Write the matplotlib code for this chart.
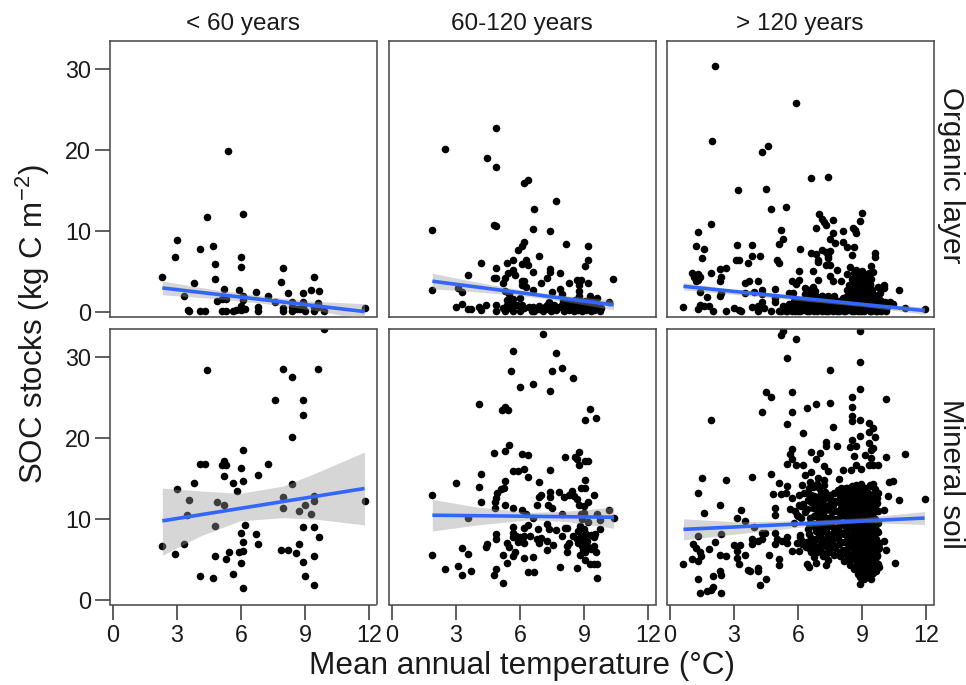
#!/usr/bin/env python3
"""
Soil organic carbon stocks against mean annual temperature,
by forest age class (columns) and soil compartment (rows).
"""

import numpy as np
import matplotlib.pyplot as plt

plt.rcParams['font.family'] = ['Liberation Sans', 'DejaVu Sans']
plt.rcParams['mathtext.fontset'] = 'custom'
plt.rcParams['mathtext.rm'] = 'Liberation Sans'
plt.rcParams['mathtext.default'] = 'regular'

age_labels = ['< 60 years', '60-120 years', '> 120 years']
row_labels = ['Organic layer', 'Mineral soil']
x_ticks = [0, 3, 6, 9, 12]
y_ticks = [0, 10, 20, 30]

# points as (temperature, stock)
organic_young = [
    (5.4, 19.9), (4.38, 11.8), (6.1, 12.1), (3.0, 8.9), (4.69, 8.2), (4.09, 7.8), (2.9, 6.8), (6.0, 6.8),
    (4.78, 6.0), (6.0, 5.55), (7.98, 5.4), (2.31, 4.3), (4.78, 4.15), (9.39, 4.3), (3.78, 3.6), (7.88, 3.7),
    (5.19, 2.85), (5.89, 2.8), (6.69, 2.55), (8.19, 2.4), (8.88, 2.4), (9.27, 2.7), (9.67, 2.65), (3.31, 1.95),
    (6.09, 2.05), (7.28, 2.0), (5.28, 1.65), (5.1, 1.6), (4.89, 1.35), (6.09, 1.45), (7.58, 1.3), (8.38, 1.25),
    (8.88, 1.3), (9.6, 1.15), (6.0, 0.8), (6.8, 0.7), (6.8, 0.2), (7.98, 0.5), (7.98, 0.2), (8.38, 0.65),
    (8.38, 0.2), (8.6, 0.4), (8.75, 0.4), (8.9, 0.6), (8.97, 0.2), (9.39, 0.6), (9.39, 0.1), (9.88, 0.2),
    (11.78, 0.5), (3.5, 0.3), (3.56, 0.1), (4.09, 0.2), (4.31, 0.2), (5.09, 0.1), (5.28, 0.2), (5.6, 0.1),
    (5.78, 0.3), (6.0, 0.3), (6.19, 0.45), (9.6, 0.6),
]
organic_mid = [
    (4.88, 22.8), (2.5, 20.2), (4.47, 19.0), (4.88, 17.9), (6.39, 16.3), (6.17, 15.9), (7.67, 13.7), (6.67, 12.7),
    (4.78, 10.8), (4.89, 10.7), (1.89, 10.2), (6.58, 10.3), (7.38, 10.0), (6.19, 8.7), (6.09, 8.2), (5.88, 7.7),
    (8.17, 8.4), (9.17, 8.2), (6.88, 6.9), (9.17, 6.5), (4.17, 6.05), (5.38, 6.1), (5.66, 6.4), (6.27, 6.45),
    (6.08, 6.0), (6.38, 5.8), (9.05, 5.7), (4.88, 5.4), (6.58, 5.0), (7.38, 5.3), (7.38, 4.95), (7.88, 4.85),
    (5.66, 5.2), (5.45, 4.8), (5.77, 4.65), (3.58, 4.55), (4.78, 4.2), (4.89, 4.2), (5.27, 4.25), (5.19, 3.65),
    (10.36, 4.1), (7.27, 4.2), (7.0, 3.65), (8.27, 3.65), (8.66, 3.95), (8.84, 3.95), (9.17, 3.6), (8.78, 3.3),
    (6.08, 3.8), (6.19, 3.8), (6.08, 3.3), (6.28, 3.1), (6.58, 2.75), (1.89, 2.7), (3.11, 3.05), (3.28, 2.55),
    (7.88, 2.85), (7.47, 2.45), (7.97, 2.25), (8.78, 2.6), (8.78, 2.05), (9.25, 2.05), (9.58, 1.75), (5.28, 2.6),
    (5.48, 2.25), (5.98, 1.75), (5.66, 1.65), (5.38, 1.45), (10.17, 1.3), (3.28, 1.0), (2.98, 0.6), (3.58, 0.35),
    (3.69, 0.35), (4.08, 0.6), (4.17, 0.3), (4.39, 0.95), (4.88, 0.95), (4.88, 0.1), (5.19, 0.55), (5.38, 0.85),
    (5.56, 1.2), (5.69, 0.85), (5.69, 0.1), (5.84, 0.85), (6.2, 0.5), (6.4, 0.6), (6.62, 0.7), (6.65, 0.1),
    (6.88, 0.4), (6.9, 0.8), (7.05, 0.15), (7.28, 0.9), (7.3, 0.4), (7.35, 1.3), (7.45, 0.2), (7.55, 0.6),
    (7.7, 0.3), (7.8, 0.7), (7.95, 0.95), (8.05, 0.2), (8.1, 0.6), (8.22, 1.1), (8.3, 0.3), (8.35, 0.7),
    (8.45, 1.2), (8.5, 0.15), (8.58, 0.5), (8.65, 0.9), (8.72, 0.25), (8.8, 0.6), (8.88, 1.3), (8.92, 0.2),
    (9.0, 0.75), (9.08, 0.3), (9.15, 1.0), (9.22, 0.5), (9.3, 0.15), (9.38, 0.75), (9.45, 0.3), (9.52, 1.1),
    (9.6, 0.5), (9.72, 0.2), (9.8, 0.55), (5.3, 0.15), (5.48, 0.5), (6.0, 0.2), (6.1, 0.85), (6.55, 0.15),
    (7.15, 0.6), (7.6, 0.95), (8.0, 1.4), (8.55, 1.5), (9.05, 1.4), (9.4, 1.5),
]
organic_old = [
    (2.12, 30.4), (5.89, 25.8), (1.99, 21.1), (4.61, 20.5), (4.31, 19.8), (6.61, 16.6), (7.41, 16.75), (3.2, 15.05),
    (4.51, 15.2), (4.72, 12.8), (5.42, 13.05), (7.0, 12.1), (7.1, 11.5), (7.21, 11.2), (7.32, 10.8), (7.62, 11.4),
    (9.01, 12.2), (8.9, 11.3), (6.82, 10.4), (1.91, 10.95), (1.32, 9.9), (5.22, 10.1), (5.31, 9.1), (5.11, 8.4),
    (7.62, 9.75), (8.1, 10.0), (8.59, 10.35), (8.68, 10.2), (8.71, 9.8), (7.51, 9.0), (7.71, 8.55), (8.1, 8.7),
    (8.31, 8.1), (8.62, 8.1), (1.22, 8.2), (1.61, 7.85), (1.52, 6.75), (3.12, 8.3), (3.82, 8.3), (3.82, 6.9),
    (4.22, 6.95), (3.21, 6.45), (3.1, 6.4), (3.64, 6.1), (5.0, 6.4), (5.11, 6.05), (6.1, 7.8), (6.61, 7.3),
    (6.82, 7.15), (6.91, 6.5), (6.91, 6.2), (7.12, 7.7), (7.32, 7.45), (7.51, 7.6), (7.41, 7.0), (7.41, 6.7),
    (7.32, 5.85), (7.51, 5.85), (8.51, 7.05), (9.62, 7.3), (9.62, 6.8), (6.02, 5.1), (6.71, 5.1), (7.81, 5.2),
    (8.42, 5.6), (8.71, 5.2), (9.01, 5.05), (9.4, 5.7), (9.51, 4.95), (8.31, 4.75), (7.51, 4.5), (1.02, 4.9),
    (1.32, 4.7), (1.41, 4.3), (1.11, 4.3), (1.32, 3.95), (1.22, 3.9), (1.91, 4.85), (2.32, 5.35), (2.6, 5.4),
    (2.41, 4.3), (2.32, 3.85), (3.51, 3.55), (3.71, 3.8), (4.11, 3.8), (5.71, 3.85), (6.02, 4.0), (5.91, 3.5),
    (6.91, 4.0), (7.62, 3.85), (8.01, 3.85), (1.41, 2.45), (1.72, 1.9), (2.41, 2.35), (2.32, 1.95), (3.51, 2.4),
    (3.92, 2.45), (4.31, 2.75), (4.92, 2.9), (4.31, 2.25), (10.72, 2.7), (9.72, 3.15), (10.01, 3.4), (10.0, 3.0),
    (11.02, 0.5), (11.93, 0.35), (0.6, 0.65), (1.32, 0.4), (1.41, 0.95), (1.61, 0.8), (1.82, 0.8), (2.0, 0.1),
    (2.6, 0.2), (3.0, 0.55), (3.21, 0.3), (3.31, 0.2), (3.82, 0.7), (4.11, 0.8), (4.11, 0.2), (4.31, 1.2),
    (4.42, 0.55), (4.72, 0.1), (4.92, 1.3), (4.92, 1.8), (5.2, 0.2), (5.35, 0.6), (5.5, 0.2), (5.55, 1.0),
    (5.55, 2.4), (5.7, 0.2), (5.75, 2.4), (5.8, 1.4), (5.9, 0.6), (6.0, 0.2), (6.05, 1.1), (6.2, 0.6),
    (6.3, 1.6), (6.3, 2.2), (6.32, 3.0), (6.4, 0.2), (6.45, 1.0), (6.5, 2.7), (6.6, 0.5), (6.62, 1.5),
    (6.7, 3.1), (6.75, 0.15), (6.85, 0.8), (6.95, 1.3), (7.05, 0.3), (7.1, 2.0), (7.2, 0.8), (7.3, 0.2),
    (7.35, 1.4), (7.5, 0.5), (7.55, 1.0), (7.65, 0.15), (7.7, 1.5), (7.8, 0.6), (7.9, 0.2), (7.95, 1.3),
    (8.05, 0.7), (8.1, 1.8), (8.2, 0.2), (8.25, 1.1), (8.35, 0.5), (8.4, 1.6), (8.45, 2.6), (8.45, 3.3),
    (8.5, 0.2), (8.55, 1.0), (8.55, 3.8), (8.6, 2.1), (8.65, 0.5), (8.7, 1.4), (8.7, 2.9), (8.7, 3.5),
    (8.75, 4.2), (8.8, 0.2), (8.85, 0.9), (8.85, 1.9), (8.85, 2.5), (8.9, 3.1), (8.9, 3.7), (8.9, 4.4),
    (8.95, 0.4), (9.0, 1.2), (9.0, 2.2), (9.0, 2.8), (9.0, 3.4), (9.05, 4.0), (9.05, 4.7), (9.1, 0.2),
    (9.1, 0.8), (9.1, 1.6), (9.15, 2.4), (9.15, 3.0), (9.2, 3.6), (9.25, 0.4), (9.25, 1.2), (9.3, 2.0),
    (9.3, 2.7), (9.3, 4.3), (9.35, 3.3), (9.4, 0.2), (9.4, 0.9), (9.45, 1.6), (9.5, 2.3), (9.55, 0.4),
    (9.6, 1.2), (9.7, 0.2), (9.75, 0.8), (9.8, 1.6), (9.85, 2.4), (9.95, 0.4), (10.05, 1.3), (10.1, 0.2),
    (10.2, 0.8), (10.3, 1.2), (10.45, 1.0),
]
organic_old_base = [
    (5.1, 0.2), (5.25, 0.25), (5.45, 0.15), (5.65, 0.3), (5.85, 0.2), (6.1, 0.15), (6.25, 0.3), (6.5, 0.15),
    (6.7, 0.25), (6.9, 0.2), (7.1, 0.15), (7.2, 0.3), (7.4, 0.15), (7.6, 0.25), (7.8, 0.15), (8.0, 0.3),
    (8.15, 0.15), (8.35, 0.25), (8.6, 0.15), (8.75, 0.3), (8.95, 0.15), (9.15, 0.25), (9.35, 0.15), (9.55, 0.25),
    (9.65, 0.15), (9.9, 0.2), (5.3, 0.8), (5.6, 0.75), (5.85, 0.9), (6.15, 0.8), (6.4, 0.75), (6.6, 0.9),
    (6.95, 0.8), (7.15, 0.85), (7.35, 0.75), (7.6, 0.85), (7.85, 0.8), (8.15, 0.75), (8.45, 0.85), (8.65, 0.8),
    (8.95, 0.85), (9.2, 0.75), (9.5, 0.85), (9.7, 0.8), (6.0, 1.4), (6.2, 1.3), (6.5, 1.45), (6.8, 1.35),
    (7.0, 1.45), (7.3, 1.3), (7.6, 1.4), (7.9, 1.35), (8.15, 1.45), (8.4, 1.3), (8.65, 1.45), (8.9, 1.35),
    (9.15, 1.45), (9.4, 1.3), (9.6, 1.45), (9.9, 1.35), (8.3, 2.0), (8.55, 2.1), (8.75, 1.95), (9.0, 2.05),
    (9.2, 1.95), (9.4, 2.1), (9.6, 1.95), (8.3, 2.7), (8.55, 2.75), (8.8, 2.65), (9.05, 2.75), (9.25, 2.65),
    (9.45, 2.75), (8.4, 3.4), (8.65, 3.35), (8.85, 3.45), (9.1, 3.35), (9.35, 3.45), (8.5, 4.1), (8.8, 4.15),
    (9.0, 4.05), (9.2, 4.15), (9.4, 4.05), (8.6, 4.8), (8.85, 4.85), (9.1, 4.75), (9.3, 4.85), (6.6, 2.0),
    (6.85, 2.05), (7.1, 1.95), (7.4, 2.05), (7.7, 1.95), (6.55, 2.6), (6.8, 2.65),
]
mineral_young = [
    (4.38, 28.4), (7.98, 28.6), (8.38, 27.6), (9.58, 28.5), (7.59, 24.7), (8.88, 24.7), (8.88, 22.9), (8.38, 20.2),
    (9.88, 33.5), (6.09, 18.5), (5.19, 17.2), (4.09, 16.85), (4.31, 16.8), (5.1, 16.7), (5.31, 16.65), (6.0, 16.35),
    (7.28, 16.85), (6.8, 15.5), (5.19, 15.35), (3.78, 14.5), (5.61, 14.5), (6.09, 14.75), (8.38, 14.4), (3.0, 13.75),
    (5.81, 13.5), (3.58, 12.35), (4.89, 12.15), (5.19, 11.8), (7.98, 12.7), (7.98, 11.4), (9.39, 12.85), (9.39, 12.3),
    (8.98, 11.8), (11.78, 12.25), (8.69, 11.05), (9.27, 10.7), (3.48, 10.55), (4.78, 9.15), (6.2, 9.25), (6.0, 8.35),
    (8.88, 9.0), (9.39, 9.0), (6.69, 8.15), (9.67, 7.75), (6.09, 7.25), (3.31, 6.9), (2.31, 6.65), (6.8, 6.9),
    (8.69, 6.95), (2.9, 5.7), (4.78, 5.5), (5.41, 6.0), (5.28, 5.1), (5.91, 5.9), (6.09, 6.05), (6.0, 4.65),
    (7.88, 6.25), (8.19, 6.15), (8.59, 5.8), (9.39, 5.5), (8.88, 4.7), (4.09, 3.05), (4.69, 2.7), (5.61, 3.25),
    (8.98, 3.0), (9.39, 1.9), (6.09, 1.5),
]
mineral_mid = [
    (7.06, 32.9), (5.67, 30.8), (7.67, 30.5), (7.97, 28.7), (5.58, 28.3), (7.47, 28.3), (8.47, 27.4), (6.58, 26.75),
    (5.98, 26.3), (7.38, 25.85), (4.08, 24.2), (5.28, 23.9), (5.16, 23.55), (5.41, 23.55), (9.27, 23.6), (9.56, 22.45),
    (9.06, 22.2), (5.48, 19.15), (5.28, 18.45), (4.78, 18.15), (6.08, 18.0), (6.39, 17.95), (8.08, 17.75), (8.78, 18.35),
    (8.58, 17.7), (8.66, 17.4), (8.78, 16.7), (9.06, 17.2), (9.17, 17.15), (7.38, 16.05), (6.19, 16.2), (5.88, 16.0),
    (5.66, 15.9), (4.17, 15.6), (6.38, 15.25), (5.28, 14.7), (2.98, 14.5), (6.88, 14.55), (9.06, 14.9), (4.08, 14.0),
    (5.25, 13.8), (5.09, 13.7), (4.9, 13.3), (1.89, 13.0), (4.88, 12.65), (4.83, 12.1), (4.17, 12.1), (5.28, 11.8),
    (5.69, 11.4), (4.83, 11.4), (8.83, 13.9), (9.05, 13.8), (7.84, 13.35), (7.38, 13.35), (7.38, 12.75), (7.0, 13.05),
    (6.88, 12.8), (6.8, 11.7), (7.3, 11.8), (7.47, 11.45), (8.06, 12.75), (8.27, 13.0), (8.44, 13.5), (8.5, 12.85),
    (8.66, 12.45), (8.78, 11.7), (8.97, 11.65), (9.17, 12.1), (9.47, 13.0), (6.08, 11.2), (6.27, 10.6), (6.58, 10.15),
    (3.58, 10.2), (7.97, 10.7), (8.86, 10.6), (9.0, 10.8), (8.89, 10.0), (9.58, 10.7), (10.17, 11.2), (10.38, 10.15),
    (9.75, 9.85), (9.2, 9.65), (7.28, 9.45), (5.69, 9.05), (6.19, 8.95), (6.39, 9.25), (6.83, 8.75), (7.36, 8.75),
    (7.67, 8.7), (8.08, 8.95), (8.19, 8.9), (8.81, 9.15), (8.97, 8.85), (9.75, 8.75), (4.88, 8.15), (4.88, 7.6),
    (5.69, 8.35), (5.81, 7.95), (5.69, 7.75), (6.0, 7.75), (6.16, 7.95), (5.92, 7.2), (6.16, 7.05), (6.47, 7.9),
    (6.78, 7.5), (7.0, 7.65), (6.88, 7.1), (7.25, 7.3), (7.56, 6.8), (7.28, 6.2), (7.97, 7.95), (8.47, 7.95),
    (8.27, 7.1), (8.19, 6.7), (8.19, 6.0), (9.52, 8.15), (9.44, 7.75), (8.66, 7.5), (8.81, 7.1), (8.97, 7.5),
    (9.13, 7.3), (8.89, 6.7), (9.13, 6.7), (9.44, 6.7), (9.56, 6.0), (8.81, 5.55), (4.47, 7.0), (4.39, 6.55),
    (3.28, 6.45), (3.58, 5.7), (1.89, 5.6), (5.38, 7.1), (5.47, 6.55), (5.77, 5.95), (5.69, 5.4), (5.19, 5.55),
    (6.19, 5.25), (6.58, 5.3), (5.38, 4.6), (9.06, 4.95), (9.28, 4.45), (9.44, 4.45), (9.59, 4.45), (7.88, 4.15),
    (8.66, 4.0), (3.11, 4.2), (2.5, 3.8), (3.69, 3.6), (3.28, 3.1), (4.88, 3.9), (4.8, 3.1), (6.39, 3.45),
    (6.67, 3.45), (5.19, 2.1), (9.58, 2.75), (8.95, 6.2), (9.05, 6.0), (8.7, 8.6), (9.1, 8.2), (9.3, 8.0),
    (8.85, 7.9), (8.7, 7.1), (9.0, 7.0), (9.3, 6.3),
]
mineral_old = [
    (5.3, 33.2), (5.22, 32.7), (5.89, 32.25), (8.9, 33.3), (5.5, 29.9), (8.9, 29.4), (7.51, 28.4), (8.9, 26.05),
    (4.51, 25.7), (4.72, 25.1), (5.71, 25.7), (8.51, 25.1), (10.11, 24.8), (6.82, 24.2), (6.43, 23.7), (7.51, 24.4),
    (8.51, 23.9), (4.31, 23.3), (5.71, 23.3), (8.51, 22.75), (8.51, 22.1), (8.9, 22.3), (1.91, 22.3), (5.5, 21.8),
    (7.62, 21.35), (9.31, 21.85), (9.5, 21.25), (9.31, 20.75), (6.22, 20.7), (8.9, 20.3), (9.62, 20.1), (8.51, 19.85),
    (7.3, 19.55), (7.3, 19.05), (7.81, 19.0), (8.42, 18.9), (8.71, 19.1), (9.31, 19.45), (9.4, 18.55), (9.5, 18.8),
    (5.71, 18.7), (5.61, 18.0), (6.61, 18.25), (7.02, 18.15), (11.02, 18.05), (10.11, 17.65), (8.6, 17.8), (9.12, 17.9),
    (9.4, 17.6), (5.71, 17.4), (6.82, 17.4), (5.5, 16.85), (5.91, 16.75), (6.22, 16.7), (7.21, 16.55), (7.4, 15.95),
    (8.71, 16.75), (8.46, 16.05), (8.93, 16.15), (9.33, 16.7), (9.5, 16.7), (9.72, 16.7), (8.1, 16.05), (6.61, 15.85),
    (6.32, 15.5), (1.52, 15.1), (2.6, 14.85), (3.82, 15.2), (4.72, 15.6), (5.11, 14.5), (5.5, 14.1), (6.91, 15.1),
    (7.21, 14.9), (7.92, 15.0), (10.27, 14.65), (10.44, 14.7), (1.32, 13.25), (4.83, 13.1), (5.2, 13.1), (5.42, 13.25),
    (5.71, 12.6), (6.02, 13.0), (6.27, 13.25), (6.5, 13.9), (2.32, 11.7), (3.31, 11.2), (1.61, 10.8), (4.91, 11.35),
    (4.91, 10.5), (3.12, 10.1), (3.51, 9.8), (3.92, 9.1), (10.03, 11.15), (10.72, 12.35), (10.22, 12.9), (9.72, 13.3),
    (11.93, 12.55), (1.32, 7.95), (2.41, 8.2), (1.1, 7.0), (1.22, 6.5), (1.41, 5.9), (1.43, 5.4), (1.32, 4.85),
    (1.02, 5.05), (0.6, 4.45), (1.82, 6.3), (2.12, 7.2), (2.32, 5.55), (2.6, 5.45), (3.0, 6.85), (3.26, 6.8),
    (3.12, 6.1), (3.12, 5.25), (3.21, 4.5), (3.51, 5.55), (3.65, 3.7), (4.11, 3.95), (3.73, 3.55), (4.11, 3.6),
    (3.82, 7.5), (3.82, 6.9), (4.11, 7.3), (4.31, 7.5), (4.31, 8.35), (4.47, 8.35), (4.92, 8.35), (5.02, 7.5),
    (4.92, 6.9), (5.25, 7.3), (5.5, 7.75), (5.5, 7.1), (4.62, 5.55), (5.11, 5.05), (5.11, 4.3), (5.71, 6.05),
    (6.02, 6.1), (1.32, 2.6), (2.01, 3.05), (2.32, 3.55), (2.41, 3.15), (4.51, 2.65), (4.23, 1.9), (1.41, 0.85),
    (1.72, 1.15), (1.91, 1.25), (2.01, 1.65), (2.41, 0.85), (6.43, 4.45), (6.5, 4.15), (6.82, 4.65), (7.32, 4.3),
    (7.41, 4.95), (10.52, 4.55), (10.11, 6.2), (10.02, 7.3), (8.9, 2.05), (9.4, 2.6), (9.25, 3.0), (9.8, 4.05),
    (5.6, 11.3), (5.85, 11.0), (6.0, 10.4), (6.15, 11.6), (6.3, 10.9), (6.45, 12.4), (6.6, 13.0), (6.7, 14.0),
    (5.8, 9.5), (6.1, 8.0), (6.2, 7.3), (6.35, 6.6), (6.5, 8.2), (6.6, 6.0), (6.65, 7.2), (6.75, 5.3),
    (6.8, 9.0), (6.85, 10.5), (6.9, 11.8), (6.95, 12.8), (7.0, 13.8), (7.0, 8.0), (7.05, 7.0), (7.05, 6.1),
    (7.1, 9.5), (7.15, 10.6), (7.15, 11.4), (7.2, 12.5), (7.25, 13.4), (7.3, 8.6), (7.3, 7.5), (7.3, 5.7),
    (7.4, 6.5), (7.4, 9.2), (7.45, 10.2), (7.45, 11.8), (7.5, 13.0), (7.55, 8.0), (7.6, 6.9), (7.65, 9.0),
    (7.7, 11.0), (7.75, 12.2), (7.8, 10.0), (7.85, 13.6), (7.85, 8.4), (7.9, 7.0), (7.95, 5.5), (8.0, 9.4),
    (8.0, 11.4), (8.05, 12.7), (8.1, 13.4), (8.1, 6.2), (8.15, 4.8), (8.15, 8.2), (8.2, 10.4), (8.25, 7.2),
    (8.25, 12.0), (8.3, 13.8), (8.35, 5.6), (8.35, 9.0), (8.4, 11.0), (8.45, 12.8), (8.45, 4.4), (8.5, 6.8),
    (8.5, 8.0), (8.55, 10.0), (8.55, 13.6), (8.6, 3.8), (8.6, 5.2), (8.65, 7.2), (8.65, 9.0), (8.65, 11.4),
    (8.7, 12.6), (8.7, 14.2), (8.75, 4.5), (8.75, 6.0), (8.75, 8.2), (8.8, 3.2), (8.8, 5.2), (8.8, 7.0),
    (8.8, 9.6), (8.85, 10.8), (8.85, 12.0), (8.85, 13.2), (8.9, 2.9), (8.9, 4.0), (8.9, 6.2), (8.9, 8.0),
    (8.95, 5.0), (8.95, 7.2), (8.95, 9.0), (9.0, 3.4), (9.0, 4.4), (9.0, 5.8), (9.0, 8.6), (9.0, 10.2),
    (9.0, 11.2), (9.0, 12.6), (9.0, 14.0), (9.05, 6.8), (9.05, 7.8), (9.1, 2.6), (9.1, 3.8), (9.1, 5.2),
    (9.1, 9.4), (9.15, 4.6), (9.15, 6.2), (9.15, 8.2), (9.15, 11.6), (9.15, 13.4), (9.2, 3.1), (9.2, 7.2),
    (9.2, 10.0), (9.2, 12.2), (9.25, 5.6), (9.25, 8.8), (9.3, 3.9), (9.3, 4.8), (9.3, 6.6), (9.3, 7.8),
    (9.3, 10.8), (9.35, 14.2), (9.35, 13.0), (9.4, 5.4), (9.4, 9.2), (9.4, 11.6), (9.45, 4.2), (9.45, 6.2),
    (9.45, 7.2), (9.5, 8.2), (9.5, 10.2), (9.5, 12.4), (9.5, 14.3), (9.55, 5.0), (9.6, 6.6), (9.6, 9.0),
    (9.6, 11.4), (9.65, 3.6), (9.65, 7.6), (9.7, 5.4), (9.7, 12.0), (9.75, 4.5), (9.75, 8.4), (9.8, 6.4),
]
# the two dense clouds of the old mineral panel
mineral_old_warm = [
    (8.25, 13.9), (8.5, 14.1), (8.72, 13.8), (8.95, 14.3), (9.15, 13.9), (9.4, 14.1), (9.6, 13.7), (8.15, 13.1),
    (8.4, 13.3), (8.62, 13.0), (8.82, 13.4), (9.08, 13.0), (9.28, 13.3), (9.55, 13.1), (8.1, 12.4), (8.35, 12.6),
    (8.58, 12.3), (8.8, 12.6), (9.05, 12.3), (9.25, 12.7), (9.48, 12.3), (9.7, 12.6), (8.2, 11.6), (8.45, 11.8),
    (8.68, 11.5), (8.92, 11.8), (9.12, 11.5), (9.35, 11.8), (9.6, 11.6), (8.12, 10.9), (8.32, 11.1), (8.55, 10.8),
    (8.78, 11.1), (9.02, 10.8), (9.25, 11.0), (9.5, 10.8), (9.72, 11.0), (8.3, 10.1), (8.5, 10.3), (8.72, 10.0),
    (8.95, 10.3), (9.15, 10.0), (9.38, 10.3), (9.62, 10.0), (8.15, 9.3), (8.42, 9.5), (8.65, 9.2), (8.88, 9.5),
    (9.1, 9.2), (9.32, 9.5), (9.55, 9.3), (9.75, 9.5), (8.25, 8.6), (8.5, 8.8), (8.75, 8.6), (9.0, 8.8),
    (9.22, 8.6), (9.45, 8.8), (9.68, 8.6), (8.3, 7.9), (8.6, 8.1), (8.82, 7.8), (9.08, 8.0), (9.3, 8.2),
    (9.55, 7.9), (8.2, 7.2), (8.42, 7.4), (8.7, 7.4), (8.9, 7.2), (9.12, 7.4), (9.38, 7.2), (9.6, 7.4),
    (9.78, 7.1), (8.35, 6.4), (8.6, 6.6), (8.85, 6.5), (9.1, 6.6), (9.35, 6.5), (9.55, 6.6), (9.72, 6.3),
    (8.3, 5.6), (8.55, 5.8), (8.78, 5.7), (9.02, 5.9), (9.25, 5.7), (9.5, 5.8), (9.7, 5.6), (8.45, 5.0),
    (8.7, 5.0), (8.92, 5.2), (9.18, 5.0), (9.4, 5.0), (9.62, 5.0), (8.72, 4.2), (8.95, 4.4), (9.2, 4.2),
    (9.42, 4.5), (9.62, 4.3), (8.95, 3.6), (9.12, 3.4), (9.32, 3.6), (9.5, 3.4),
]
mineral_old_cool = [
    (6.2, 14.2), (6.55, 14.6), (6.9, 14.3), (7.2, 14.2), (7.05, 13.3), (6.75, 12.9), (6.45, 13.2), (7.3, 12.9),
    (7.55, 12.4), (7.7, 13.3), (7.95, 12.9), (8.0, 13.8), (6.6, 12.1), (6.85, 12.3), (7.1, 12.0), (7.4, 11.6),
    (7.65, 11.7), (7.9, 12.1), (6.4, 11.3), (6.7, 11.4), (6.95, 11.2), (7.25, 11.2), (7.55, 11.0), (7.85, 11.0),
    (6.05, 11.8), (6.25, 11.9), (5.95, 10.5), (6.15, 10.1), (6.55, 10.2), (6.75, 10.4), (7.0, 10.0), (7.3, 10.2),
    (7.6, 10.1), (7.95, 10.4), (6.5, 9.4), (6.75, 9.4), (7.0, 9.2), (7.25, 9.1), (7.55, 9.5), (7.85, 9.0),
    (6.85, 8.6), (7.1, 8.4), (7.4, 8.2), (7.7, 8.4), (7.95, 8.4), (6.45, 8.8), (6.6, 7.7), (6.85, 7.5),
    (7.1, 7.6), (7.35, 7.5), (7.65, 7.6), (7.85, 7.7), (6.4, 7.2), (6.75, 6.8), (7.0, 6.6), (7.25, 6.8),
    (7.5, 7.0), (7.75, 6.5), (8.0, 7.2), (6.5, 6.5), (6.9, 6.0), (7.15, 5.5), (7.45, 5.9), (7.7, 5.6),
    (7.95, 6.0), (6.2, 6.9), (5.95, 7.1), (6.65, 6.2), (6.1, 7.8),
]

# fitted lines: endpoints (x, y), then band knots (x, upper, lower)
line_x = [[2.31, 11.78], [1.89, 10.38], [0.63, 11.92], [2.31, 11.78], [1.89, 10.38], [0.63, 11.92]]
line_y = [[3.0, 0.08], [3.83, 0.9], [3.2, 0.2], [9.8, 13.8], [10.5, 10.25], [8.75, 10.15]]
band_x = [
    [2.31, 4.7, 7.0, 9.4, 11.78],
    [1.89, 4.0, 6.0, 8.0, 10.38],
    [0.63, 3.0, 6.0, 9.0, 11.92],
    [2.31, 4.06, 5.94, 7.97, 9.53, 11.78],
    [1.89, 4.0, 6.5, 8.2, 10.38],
    [0.63, 3.0, 6.0, 9.0, 11.92],
]
band_upper = [
    [3.85, 2.8, 2.0, 1.35, 1.05],
    [4.8, 3.7, 2.76, 2.07, 1.5],
    [3.65, 2.8, 1.85, 1.1, 0.65],
    [13.85, 13.5, 13.2, 14.1, 15.75, 18.3],
    [12.45, 11.5, 10.85, 11.0, 11.5],
    [10.05, 9.7, 9.8, 10.2, 10.95],
]
band_lower = [
    [2.15, 1.7, 1.1, 0.25, -0.9],
    [2.9, 2.5, 2.06, 1.37, 0.3],
    [2.75, 2.2, 1.45, 0.7, -0.25],
    [5.55, 7.9, 9.8, 10.2, 10.0, 9.3],
    [8.55, 9.3, 9.95, 9.7, 8.9],
    [7.45, 8.15, 9.0, 9.6, 9.35],
]

panels = [
    organic_young, organic_mid, organic_old + organic_old_base,
    mineral_young, mineral_mid, mineral_old + mineral_old_warm + mineral_old_cool,
]

W, H = 966, 685
lefts = [110, 389, 667]
width = 266.5
tops = [41, 329]
height = 275.5
row_centers = [175, 474]
text_color = '#1a1a1a'

fig = plt.figure(figsize=(W / 100, H / 100), dpi=100)

for i, pts in enumerate(panels):
    row, col = divmod(i, 3)
    ax = fig.add_axes([lefts[col] / W, 1 - (tops[row] + height) / H, width / W, height / H])
    pts = np.array(pts)
    ax.scatter(pts[:, 0], pts[:, 1], s=30, color='black', linewidths=0, zorder=2)
    ax.fill_between(band_x[i], band_lower[i], band_upper[i], color='#999999',
                    alpha=0.4, linewidth=0, zorder=3)
    ax.plot(line_x[i], line_y[i], color='#3366FF', linewidth=2.6, zorder=4,
            solid_capstyle='butt')

    ax.set_xlim(-0.14, 12.34)
    ax.set_ylim(-0.53, 33.5)
    ax.set_xticks(x_ticks)
    ax.set_yticks(y_ticks)
    ax.tick_params(axis='y', length=10.5, width=1.1, color='#333333', labelsize=16.8, pad=3,
                   labelcolor=text_color, left=col == 0, labelleft=col == 0)
    ax.tick_params(axis='x', length=10.5, width=1.1, color='#333333', labelsize=16.8, pad=3.5,
                   labelcolor=text_color, bottom=row == 1, labelbottom=row == 1)
    for spine in ax.spines.values():
        spine.set_color('#444444')
        spine.set_linewidth(1.1)

    if row == 0:
        ax.set_title(age_labels[col], fontsize=17.5, pad=8, color=text_color)
    if col == 2:
        fig.text(951 / W, 1 - row_centers[row] / H, row_labels[row], rotation=270,
                 fontsize=21.3, ha='center', va='center', color=text_color)

fig.text(522 / W, 1 - 666 / H, 'Mean annual temperature (°C)', fontsize=22.7,
         ha='center', va='center', color=text_color)
fig.text(33 / W, 1 - 324 / H, r'SOC stocks (kg C m$^{-2}$)', fontsize=22.5,
         rotation=90, ha='center', va='center', color=text_color)

fig.savefig('out.png', dpi=100)
